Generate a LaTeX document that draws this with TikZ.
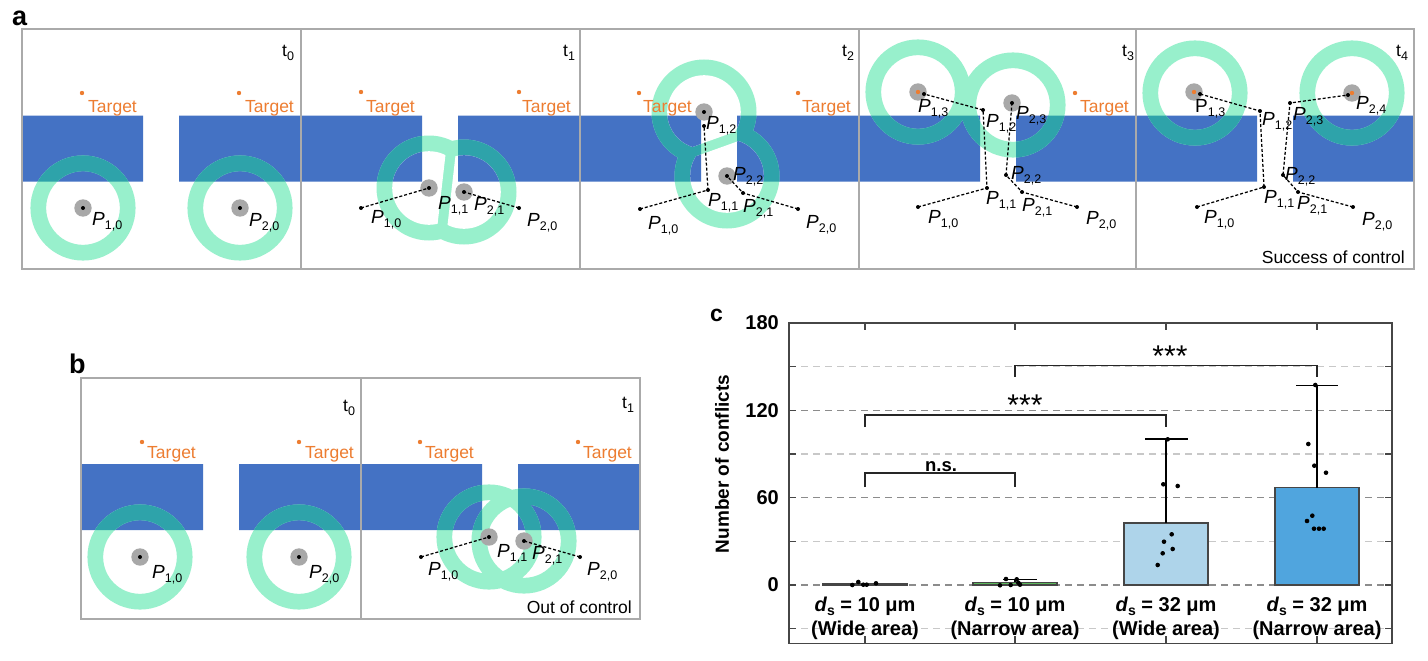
\documentclass[tikz,border=0pt]{standalone}
\usepackage{fontspec}
\setmainfont{Liberation Sans}
\usetikzlibrary{calc}
\definecolor{barblue}{RGB}{68,114,196}
\definecolor{mint}{RGB}{152,240,204}
\definecolor{tealc}{RGB}{46,163,170}
\definecolor{tgtc}{RGB}{237,125,49}
\definecolor{robotc}{RGB}{168,168,168}
\definecolor{framec}{RGB}{170,170,170}
\definecolor{greenbar}{RGB}{92,184,92}
\definecolor{lightbar}{RGB}{174,212,234}
\definecolor{midbar}{RGB}{80,165,222}
\definecolor{gridmaj}{RGB}{140,140,140}
\definecolor{gridmin}{RGB}{200,200,200}
\definecolor{axisc}{RGB}{70,70,70}
\newcommand\sbs[1]{\raisebox{-4pt}{\fontsize{12.5}{12.5}\selectfont #1}}
\newcommand\Pl[1]{{\fontsize{19}{21}\selectfont\itshape P}\sbs{#1}}
\newcommand\Pu[1]{{\fontsize{19}{21}\selectfont P}\sbs{#1}}
\newcommand\tl[1]{t\sbs{#1}}
\newcommand\fillbarsA{\fill[barblue] (22,115.5) rectangle (143,181.5) (179,115.5) rectangle (422,181.5) (458,115.5) rectangle (701,181.5) (737,115.5) rectangle (980,181.5) (1016,115.5) rectangle (1257,181.5) (1293,115.5) rectangle (1413,181.5);}
\newcommand\clipbarsA{\clip (22,115.5) rectangle (143,181.5) (179,115.5) rectangle (422,181.5) (458,115.5) rectangle (701,181.5) (737,115.5) rectangle (980,181.5) (1016,115.5) rectangle (1257,181.5) (1293,115.5) rectangle (1413,181.5);}
\newcommand\fillbarsB{\fill[barblue] (81,464) rectangle (203,530) (239,464) rectangle (482,530) (518,464) rectangle (640,530);}
\newcommand\clipbarsB{\clip (81,464) rectangle (203,530) (239,464) rectangle (482,530) (518,464) rectangle (640,530);}
% rings: #1 clip command, #2 circle path
\newcommand\ringpaint[2]{%
  \draw[line width=15.7pt, mint] #2;
  \begin{scope}#1\draw[line width=15.7pt, tealc] #2;\end{scope}}
% hole of merged pair: #1 own centre, #2 other centre, #3 bar fill command
\newcommand\mkhole[3]{%
  \coordinate (hM) at ($(#1)!0.5!(#2)$);
  \coordinate (hQ) at ($(hM)!5pt!(#1)$);
  \coordinate (hF) at ($(hQ)!150pt!(#1)$);
  \begin{scope}
    \clip ($(hQ)!150pt!90:(#1)$) -- ($(hF)!150pt!-90:(hQ)$) -- ($(hF)!150pt!90:(hQ)$) -- ($(hQ)!150pt!-90:(#1)$) -- cycle;
    \clip (#1) circle (36.8);
    \fill[white] (#1) circle (40);
    #3
  \end{scope}}
\newcommand\merged[4]{%
  \fill[mint] (#1) circle (52.5) (#2) circle (52.5);
  \begin{scope}#3\fill[tealc] (#1) circle (52.5) (#2) circle (52.5);\end{scope}
  \mkhole{#1}{#2}{#4}
  \mkhole{#2}{#1}{#4}}
\newcommand\robot[1]{\fill[robotc] (#1) circle (8.7);}
\newcommand\bdot[1]{\fill[black] (#1) circle (2);}
\newcommand\orangedot[1]{\fill[tgtc] (#1) circle (2.2);}
\begin{document}
\begin{tikzpicture}[x=1pt,y=-1pt,
  traj/.style={draw=black, line width=1.25pt, dash pattern=on 3pt off 2pt},
  lab/.style={anchor=base west, inner sep=0pt, font=\fontsize{17.5}{20}\selectfont},
  tgtlab/.style={lab, text=tgtc},
  framest/.style={draw=framec, line width=2pt},
  panlab/.style={anchor=base west, inner sep=0pt, font=\bfseries\fontsize{27}{27}\selectfont},
  ticklab/.style={anchor=east, inner sep=0pt, font=\bfseries\fontsize{20}{22}\selectfont},
  catlab/.style={anchor=base, inner sep=0pt, font=\bfseries\fontsize{20}{22}\selectfont},
  barst/.style={draw=axisc, line width=1.3pt},
  errst/.style={draw=black, line width=1.2pt},
  brk/.style={draw=black!85, line width=1.3pt},
  gmaj/.style={draw=gridmaj, line width=1.1pt, dash pattern=on 7pt off 5pt},
  gmin/.style={draw=gridmin, line width=1.1pt, dash pattern=on 7pt off 5pt},
  ptst/.style={fill=black}]
\useasboundingbox (0,0) rectangle (1428,661);
\fill[white] (0,0) rectangle (1428,661);

% ================= panel a =================
\coordinate (a0t1) at (82,93);   \coordinate (a0t2) at (239,93);
\coordinate (a0p10) at (83,208); \coordinate (a0p20) at (240,208);
\coordinate (a1t1) at (361,92);  \coordinate (a1t2) at (519,92);
\coordinate (a1p10) at (361,208); \coordinate (a1p20) at (519,208);
\coordinate (a1p11) at (429,188); \coordinate (a1p21) at (464,192);
\coordinate (a2t1) at (639,93);  \coordinate (a2t2) at (798,93);
\coordinate (a2p10) at (640,209); \coordinate (a2p20) at (798,209);
\coordinate (a2p11) at (708,190); \coordinate (a2p21) at (743,193);
\coordinate (a2p12) at (704,112); \coordinate (a2e12) at (704,126);
\coordinate (a2p22) at (727,176);
\coordinate (a3t2) at (1075,93);
\coordinate (a3p10) at (918,207); \coordinate (a3p20) at (1077,207);
\coordinate (a3p11) at (987,188); \coordinate (a3p21) at (1022,192);
\coordinate (a3p12) at (983,110); \coordinate (a3p22) at (1006,175);
\coordinate (a3p13) at (918,92);  \coordinate (a3e13) at (924,94);
\coordinate (a3p23) at (1012,103);
\coordinate (a4p10) at (1197,207); \coordinate (a4p20) at (1353,207);
\coordinate (a4p11) at (1264,187); \coordinate (a4p21) at (1298,192);
\coordinate (a4p12) at (1260,111); \coordinate (a4p22) at (1283,175);
\coordinate (a4p23) at (1290,103);
\coordinate (a4p13) at (1194,92);  \coordinate (a4e13) at (1200,94);
\coordinate (a4p24) at (1352,93);  \coordinate (a4e24) at (1348,95);

\fillbarsA
\ringpaint{\clipbarsA}{(a0p10) circle (44.7) (a0p20) circle (44.7)}
\ringpaint{\clipbarsA}{(918,92) circle (44.7) (1013,105) circle (44.7)}
\ringpaint{\clipbarsA}{(1195,93) circle (44.7) (1352,93) circle (44.7)}
\merged{a1p11}{a1p21}{\clipbarsA}{\fillbarsA}
\merged{a2p12}{a2p22}{\clipbarsA}{\fillbarsA}

% targets
\foreach \t in {a0t1,a0t2,a1t1,a1t2,a2t1,a2t2,a3t2}{\orangedot{\t}}
\node[tgtlab] (ta01) at (88,112) {Target};
\node[tgtlab] (ta02) at (245,112) {Target};
\node[tgtlab] (ta11) at (366,112) {Target};
\node[tgtlab] (ta12) at (522,112) {Target};
\node[tgtlab] (ta21) at (643,112) {Target};
\node[tgtlab] (ta22) at (802,112) {Target};
\node[tgtlab] (ta32) at (1080,112) {Target};

% robots
\foreach \r in {a0p10,a0p20,a1p11,a1p21,a2p12,a2p22,a3p13,a3p23,a4p13,a4p24}{\robot{\r}}

% trajectories
\draw[traj] (a1p10) -- (a1p11);
\draw[traj] (a1p20) -- (a1p21);
\draw[traj] (a2p10) -- (a2p11) -- (a2e12);
\draw[traj] (a2p20) -- (a2p21) -- (a2p22);
\draw[traj] (a3p10) -- (a3p11) -- (a3p12) -- (a3e13);
\draw[traj] (a3p20) -- (a3p21) -- (a3p22) -- (a3p23);
\draw[traj] (a4p10) -- (a4p11) -- (a4p12) -- (a4e13);
\draw[traj] (a4p20) -- (a4p21) -- (a4p22) -- (a4p23) -- (a4e24);

\foreach \d in {a0p10,a0p20,a1p10,a1p20,a1p11,a1p21,a2p10,a2p20,a2p11,a2p21,a2p12,a2e12,a2p22,
  a3p10,a3p20,a3p11,a3p21,a3p12,a3p22,a3e13,a3p23,a4p10,a4p20,a4p11,a4p21,a4p12,a4p22,a4p23,a4e13,a4e24}{\bdot{\d}}
\orangedot{a3p13} \orangedot{a4p13} \orangedot{a4p24}

% point labels
\node[lab] (l0a) at (92,225) {\Pl{1,0}};
\node[lab] (l0b) at (249,226) {\Pl{2,0}};
\node[lab] (l1a) at (371,223) {\Pl{1,0}};
\node[lab] (l1b) at (438,209) {\Pl{1,1}};
\node[lab] (l1c) at (474,210) {\Pl{2,1}};
\node[lab] (l1d) at (527,226) {\Pl{2,0}};
\node[lab] (l2a) at (706,129) {\Pl{1,2}};
\node[lab] (l2b) at (733,180) {\Pl{2,2}};
\node[lab] (l2c) at (708,206) {\Pl{1,1}};
\node[lab] (l2d) at (743,212) {\Pl{2,1}};
\node[lab] (l2e) at (648,229) {\Pl{1,0}};
\node[lab] (l2f) at (806,228) {\Pl{2,0}};
\node[lab] (l3a) at (918,113) {\Pl{1,3}};
\node[lab] (l3b) at (986,128) {\Pl{1,2}};
\node[lab] (l3c) at (1016,120) {\Pl{2,3}};
\node[lab] (l3d) at (1011,179) {\Pl{2,2}};
\node[lab] (l3e) at (986,204) {\Pl{1,1}};
\node[lab] (l3f) at (1022,211) {\Pl{2,1}};
\node[lab] (l3g) at (928,223) {\Pl{1,0}};
\node[lab] (l3h) at (1086,224) {\Pl{2,0}};
\node[lab] (l4a) at (1195,113) {\Pu{1,3}};
\node[lab] (l4b) at (1262,125) {\Pl{1,2}};
\node[lab] (l4c) at (1293,121) {\Pl{2,3}};
\node[lab] (l4d) at (1356,110) {\Pl{2,4}};
\node[lab] (l4e) at (1285,180) {\Pl{2,2}};
\node[lab] (l4f) at (1264,203) {\Pl{1,1}};
\node[lab] (l4g) at (1297,209) {\Pl{2,1}};
\node[lab] (l4h) at (1204,223) {\Pl{1,0}};
\node[lab] (l4i) at (1362,225) {\Pl{2,0}};
% time labels
\node[lab] (tt0) at (282,57) {\tl{0}};
\node[lab] (tt1) at (563,57) {\tl{1}};
\node[lab] (tt2) at (842,57) {\tl{2}};
\node[lab] (tt3) at (1122,57) {\tl{3}};
\node[lab] (tt4) at (1396,57) {\tl{4}};
\node[lab, anchor=base east] (succ) at (1405,263) {Success of control};
% frames
\draw[framest] (22,29) rectangle (1414,269);
\foreach \xx in {301,580,859,1136}{\draw[framest] (\xx,29) -- (\xx,269);}
\node[panlab] (pa) at (12,26) {a};

% ================= panel b =================
\coordinate (b0t1) at (142,442); \coordinate (b0t2) at (299,442);
\coordinate (b0p10) at (140,557); \coordinate (b0p20) at (299,557);
\coordinate (b1t1) at (420,442); \coordinate (b1t2) at (578,442);
\coordinate (b1p10) at (421,557); \coordinate (b1p20) at (580,557);
\coordinate (b1p11) at (489,537); \coordinate (b1p21) at (524,541);
\fillbarsB
\ringpaint{\clipbarsB}{(b0p10) circle (44.7) (b0p20) circle (44.7) (b1p11) circle (44.7) (b1p21) circle (44.7)}
\foreach \t in {b0t1,b0t2,b1t1,b1t2}{\orangedot{\t}}
\node[tgtlab] (tb01) at (147,458) {Target};
\node[tgtlab] (tb02) at (305,458) {Target};
\node[tgtlab] (tb11) at (425,458) {Target};
\node[tgtlab] (tb12) at (583,458) {Target};
\foreach \r in {b0p10,b0p20,b1p11,b1p21}{\robot{\r}}
\draw[traj] (b1p10) -- (b1p11);
\draw[traj] (b1p20) -- (b1p21);
\foreach \d in {b0p10,b0p20,b1p10,b1p20,b1p11,b1p21}{\bdot{\d}}
\node[lab] (lb0a) at (152,578) {\Pl{1,0}};
\node[lab] (lb0b) at (309,578) {\Pl{2,0}};
\node[lab] (lb1a) at (428,575) {\Pl{1,0}};
\node[lab] (lb1b) at (497,557) {\Pl{1,1}};
\node[lab] (lb1c) at (532,559) {\Pl{2,1}};
\node[lab] (lb1d) at (587,575) {\Pl{2,0}};
\node[lab] (tb0) at (343,411) {\tl{0}};
\node[lab] (tb1) at (622,408) {\tl{1}};
\node[lab, anchor=base east] (ooc) at (632,613) {Out of control};
\draw[framest] (81,378) rectangle (640,619);
\draw[framest] (361,378) -- (361,619);
\node[panlab] (pb) at (69,373) {b};

% ================= panel c =================
\begin{scope}[shift={(0,585)}, y={(0pt,1.4556pt)}]
  \foreach \v in {-30,30,90,150}{\draw[gmin] (789,\v) -- (1392,\v);}
  \foreach \v in {0,60,120}{\draw[gmaj] (789,\v) -- (1392,\v);}
  \draw[barst, fill=black] (823,0) rectangle (907,0.6);
  \draw[barst, fill=greenbar] (973,0) rectangle (1057,1.8);
  \draw[barst, fill=lightbar] (1124,0) rectangle (1208,42.6);
  \draw[barst, fill=midbar] (1275,0) rectangle (1359,66.9);
  \draw[errst] (1015,1.8) -- (1015,3.9);
  \draw[errst] (1003,3.9) -- (1037,3.9);
  \draw[errst] (1166,42.6) -- (1166,100.3);
  \draw[errst] (1145,100.3) -- (1188,100.3);
  \draw[errst] (1317,66.9) -- (1317,137.2);
  \draw[errst] (1296,137.2) -- (1338,137.2);
  \foreach \xx in {865,1015,1166,1317}{\draw[axisc, line width=1.2pt] (\xx,180) -- (\xx,175.2); \draw[axisc, line width=1.2pt] (\xx,-40) -- (\xx,-35.2);}
  \foreach \v in {-30,0,...,150}{\draw[axisc, line width=1.2pt] (1392,\v) -- (1385,\v); \draw[axisc, line width=1.2pt] (789,\v) -- (796,\v);}
  \draw[brk] (865,67.3) -- (865,77) -- (1015,77) -- (1015,67.3);
  \draw[brk] (865,108.5) -- (865,116.8) -- (1166,116.8) -- (1166,108.5);
  \draw[brk] (1015,142.9) -- (1015,151) -- (1317,151) -- (1317,142.9);
  \draw[draw=axisc, line width=1.3pt] (789,-40) rectangle (1392,180);
  \node[ticklab] (y0) at (779,0) {0};
  \node[ticklab] (y60) at (779,60) {60};
  \node[ticklab] (y120) at (779,120) {120};
  \node[ticklab] (y180) at (779,180) {180};
\end{scope}
\foreach \px/\py in {852.3/585,858.3/582,863.3/584.7,866.7/584.7,876/583.3,
  1000/585.3,1006/579,1010.7/585,1016.7/579.3,1020/584.7,1018.3/582.7,
  1163.3/484.3,1177.7/486,1171.7/534.3,1164/541.7,1162.7/553.3,1172.7/549,1157.7/565,1167.7/439.3,
  1315.3/385,1308.3/444,1314.3/465.7,1326/472.7,1312.3/515.7,1307/521,1314/528.7,1319/528.7,1323.7/528.7}
  {\fill[ptst] (\px,\py) circle (2.3);}
\node[anchor=base, inner sep=0pt, font=\bfseries\fontsize{18.5}{20}\selectfont] (ns) at (941,471.5) {n.s.};
\node[anchor=center, inner sep=0pt, font=\fontsize{30}{30}\selectfont] (st1) at (1025,405.5) {***};
\node[anchor=center, inner sep=0pt, font=\fontsize{30}{30}\selectfont] (st2) at (1170,356) {***};
\node[rotate=90, inner sep=0pt, font=\bfseries\fontsize{19}{21}\selectfont] (ylab) at (722,464) {Number of conflicts};
\node[catlab] (c1a) at (865,611) {\textit{d}\raisebox{-4pt}{\fontsize{14}{14}\selectfont s} = 10 μm};
\node[catlab] (c1b) at (865,635) {(Wide area)};
\node[catlab] (c2a) at (1015,611) {\textit{d}\raisebox{-4pt}{\fontsize{14}{14}\selectfont s} = 10 μm};
\node[catlab] (c2b) at (1015,635) {(Narrow area)};
\node[catlab] (c3a) at (1166,611) {\textit{d}\raisebox{-4pt}{\fontsize{14}{14}\selectfont s} = 32 μm};
\node[catlab] (c3b) at (1166,635) {(Wide area)};
\node[catlab] (c4a) at (1317,611) {\textit{d}\raisebox{-4pt}{\fontsize{14}{14}\selectfont s} = 32 μm};
\node[catlab] (c4b) at (1317,635) {(Narrow area)};
\node[anchor=base west, inner sep=0pt, font=\bfseries\fontsize{23}{23}\selectfont] (pc) at (710,321) {c};
\end{tikzpicture}
\end{document}
